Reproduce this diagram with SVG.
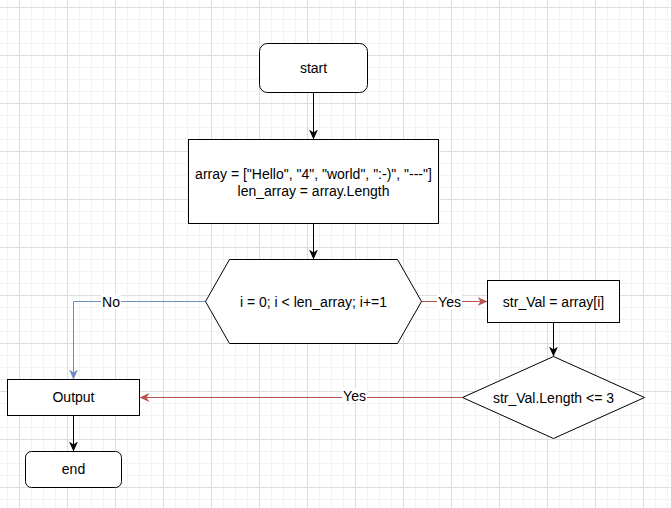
<svg xmlns="http://www.w3.org/2000/svg" width="671" height="508" viewBox="0 0 671 508">
<style>
.node{fill:#ffffff;stroke:#000000;stroke-width:1}
.lbl{font-family:"Liberation Sans",Arial,sans-serif;font-size:14px;fill:#000000;text-anchor:middle;dominant-baseline:central}
.edge{fill:none;stroke-width:1}
.blk{stroke:#000000}
.red{stroke:#b85450}
.blue{stroke:#6c8ebf}
.elbl{fill:#ffffff}
</style>
<defs>
<pattern id="grid" patternUnits="userSpaceOnUse" x="19" y="7" width="48" height="48">
<rect x="12" y="0" width="1" height="48" fill="#f3f3f3"/>
<rect x="24" y="0" width="1" height="48" fill="#f3f3f3"/>
<rect x="36" y="0" width="1" height="48" fill="#f3f3f3"/>
<rect x="0" y="12" width="48" height="1" fill="#f3f3f3"/>
<rect x="0" y="24" width="48" height="1" fill="#f3f3f3"/>
<rect x="0" y="36" width="48" height="1" fill="#f3f3f3"/>
<rect x="0" y="0" width="1" height="48" fill="#dedede"/>
<rect x="0" y="0" width="48" height="1" fill="#dedede"/>
</pattern>
<marker id="arrBlk" viewBox="0 0 10 10" refX="10" refY="5" markerWidth="10" markerHeight="10" markerUnits="userSpaceOnUse" orient="auto">
<path d="M0,0.5 L10,5 L0,9.5 L3,5 Z" fill="#000000"/>
</marker>
<marker id="arrRed" viewBox="0 0 10 10" refX="10" refY="5" markerWidth="10" markerHeight="10" markerUnits="userSpaceOnUse" orient="auto">
<path d="M0,0.5 L10,5 L0,9.5 L3,5 Z" fill="#b85450"/>
</marker>
<marker id="arrBlue" viewBox="0 0 10 10" refX="10" refY="5" markerWidth="10" markerHeight="10" markerUnits="userSpaceOnUse" orient="auto">
<path d="M0,0.5 L10,5 L0,9.5 L3,5 Z" fill="#6c8ebf"/>
</marker>
</defs>
<rect x="0" y="0" width="671" height="508" fill="#ffffff"/>
<rect x="0" y="0" width="671" height="508" fill="url(#grid)"/>

<g id="connectors">
<path class="edge blk" d="M313.5,92.5 L313.5,139.5" marker-end="url(#arrBlk)"/>
<path class="edge blk" d="M313.5,223.5 L313.5,259.5" marker-end="url(#arrBlk)"/>
<path class="edge blue" d="M205.5,301.5 L73.5,301.5 L73.5,379.5" marker-end="url(#arrBlue)"/>
<rect class="elbl" x="101" y="294" width="20" height="15"/>
<text class="lbl" x="111" y="301.5">No</text>
<path class="edge red" d="M421.5,301.5 L487.5,301.5" marker-end="url(#arrRed)"/>
<rect class="elbl" x="437" y="294" width="25" height="15"/>
<text class="lbl" x="449.5" y="302">Yes</text>
<path class="edge red" d="M462.5,397.5 L139.5,397.5" marker-end="url(#arrRed)"/>
<rect class="elbl" x="342" y="388" width="25" height="14"/>
<text class="lbl" x="354.5" y="395.5">Yes</text>
<path class="edge blk" d="M553.5,322.5 L553.5,356.5" marker-end="url(#arrBlk)"/>
<path class="edge blk" d="M73.5,415.5 L73.5,451.5" marker-end="url(#arrBlk)"/>
</g>

<g id="start">
<rect class="node" x="259.5" y="43.5" width="108" height="49" rx="8" ry="8"/>
<text class="lbl" x="313.5" y="67.5">start</text>
</g>
<g id="init">
<rect class="node" x="188.5" y="139.5" width="250" height="84"/>
<text class="lbl" x="313.5" y="174">array = ["Hello", "4", "world", ":-)", "---"]</text>
<text class="lbl" x="313.5" y="191">len_array = array.Length</text>
</g>
<g id="loop">
<polygon class="node" points="205.5,301.5 229.5,259.5 397.5,259.5 421.5,301.5 397.5,343.5 229.5,343.5"/>
<text class="lbl" x="313.5" y="301.5">i = 0; i &lt; len_array; i+=1</text>
</g>
<g id="assign">
<rect class="node" x="487.5" y="280.5" width="132" height="42"/>
<text class="lbl" x="553.5" y="301.5">str_Val = array[i]</text>
</g>
<g id="check">
<polygon class="node" points="553.5,356.5 644.5,397.5 553.5,438.5 462.5,397.5"/>
<text class="lbl" x="553.5" y="397.5">str_Val.Length &lt;= 3</text>
</g>
<g id="output">
<rect class="node" x="7.5" y="379.5" width="132" height="36"/>
<text class="lbl" x="73.5" y="397">Output</text>
</g>
<g id="end">
<rect class="node" x="25.5" y="451.5" width="96" height="36" rx="6" ry="6"/>
<text class="lbl" x="73.5" y="469">end</text>
</g>
</svg>
